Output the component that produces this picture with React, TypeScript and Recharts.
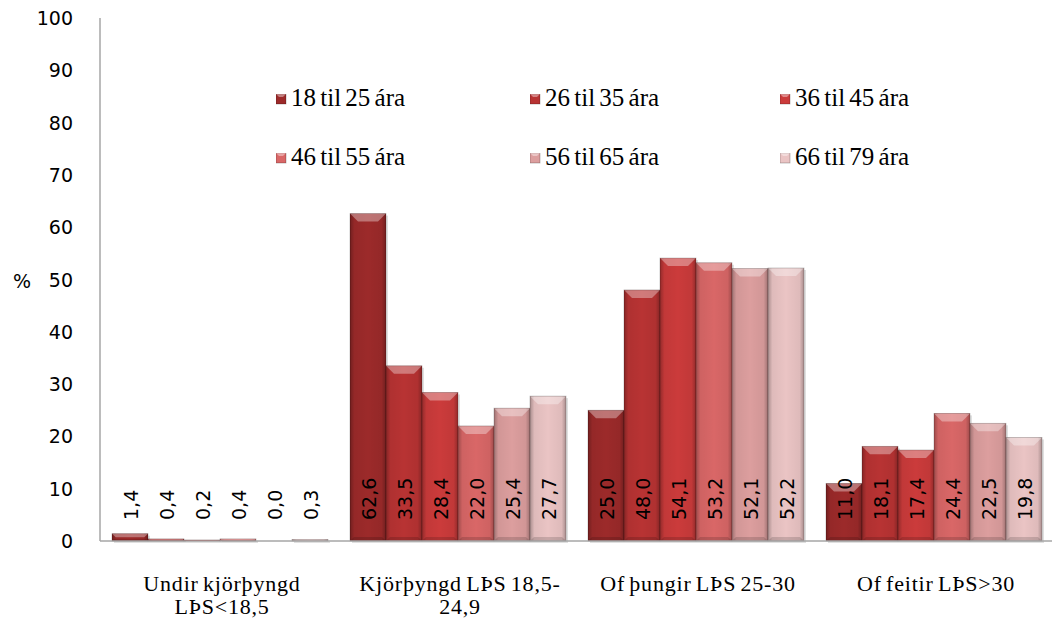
import React from 'react';
import { BarChart, Bar, XAxis, YAxis, LabelList, Label } from 'recharts';

const categories = ['Undir kjörþyngd LÞS<18,5', 'Kjörþyngd LÞS 18,5-24,9', 'Of þungir LÞS 25-30', 'Of feitir LÞS>30'];
const categoryLines: Record<string, string[]> = {
  'Undir kjörþyngd LÞS<18,5': ['Undir kjörþyngd', 'LÞS<18,5'],
  'Kjörþyngd LÞS 18,5-24,9': ['Kjörþyngd LÞS 18,5-', '24,9'],
  'Of þungir LÞS 25-30': ['Of þungir LÞS 25-30'],
  'Of feitir LÞS>30': ['Of feitir LÞS>30'],
};

const seriesNames = ['18 til 25 ára', '26 til 35 ára', '36 til 45 ára', '46 til 55 ára', '56 til 65 ára', '66 til 79 ára'];
const seriesColors = ['#9c2a2a', '#b83333', '#cb3b3b', '#d96767', '#dc9e9e', '#eac4c4'];

const age18_25 = [1.4, 62.6, 25.0, 11.0];
const age26_35 = [0.4, 33.5, 48.0, 18.1];
const age36_45 = [0.2, 28.4, 54.1, 17.4];
const age46_55 = [0.4, 22.0, 53.2, 24.4];
const age56_65 = [0.0, 25.4, 52.1, 22.5];
const age66_79 = [0.3, 27.7, 52.2, 19.8];

const seriesValues = [age18_25, age26_35, age36_45, age46_55, age56_65, age66_79];
const yTicks = [0, 10, 20, 30, 40, 50, 60, 70, 80, 90, 100];

const data = categories.map((c, i) => {
  const row: Record<string, string | number> = { name: c };
  seriesNames.forEach((s, j) => {
    row[s] = seriesValues[j][i];
  });
  return row;
});

const fmt = (v: number) => v.toFixed(1).replace('.', ',');
const SERIF = 'Liberation Serif, Times New Roman, serif';
const SANS = 'DejaVu Sans, Verdana, sans-serif';

// bevelled bar like the Excel 3D effect
const BevelBar = (props: any) => {
  const { x, y, width, height, fill } = props;
  if (width <= 0) return null;
  const h = Math.max(height, 0);
  const b = Math.min(8, h / 2, width / 4);
  return (
    <g>
      <rect x={x + 2} y={y + 2} width={width} height={h} fill="rgba(0,0,0,0.12)" />
      <rect x={x} y={y} width={width} height={h} fill={fill} />
      <rect x={x} y={y} width={width} height={h} fill="url(#edgeShade)" />
      {h > 2 && (
        <polygon
          points={`${x},${y} ${x + width},${y} ${x + width - b},${y + b} ${x + b},${y + b}`}
          fill="rgba(255,255,255,0.35)"
        />
      )}
      {h > 2 && (
        <polygon
          points={`${x},${y + h} ${x + width},${y + h} ${x + width - b / 2},${y + h - b / 2} ${x + b / 2},${y + h - b / 2}`}
          fill="rgba(0,0,0,0.15)"
        />
      )}
      <rect x={x} y={y} width={width} height={h} fill="none" stroke="rgba(0,0,0,0.25)" strokeWidth={0.8} />
    </g>
  );
};

const ValueLabel = (props: any) => {
  const { x, width, value } = props;
  const cx = x + width / 2 + 1;
  const cy = 520;
  return (
    <text
      x={cx}
      y={cy}
      transform={`rotate(-90 ${cx} ${cy})`}
      textAnchor="start"
      dominantBaseline="central"
      fontFamily={SANS}
      fontSize={19}
      fill="#000"
    >
      {fmt(value)}
    </text>
  );
};

const CategoryTick = (props: any) => {
  const { x, payload } = props;
  const lines = categoryLines[payload.value] || [payload.value];
  return (
    <text textAnchor="middle" fontFamily={SERIF} fontSize={22} letterSpacing={0.8} wordSpacing={-2} fill="#000">
      {lines.map((l, i) => (
        <tspan key={i} x={x + 3} y={591 + i * 23}>
          {l}
        </tspan>
      ))}
    </text>
  );
};

const YTick = (props: any) => {
  const { y, payload } = props;
  return (
    <text x={73} y={y} textAnchor="end" dominantBaseline="central" fontFamily={SANS} fontSize={19} fill="#000">
      {payload.value}
    </text>
  );
};

const LegendBox = () => (
  <div
    style={{
      position: 'absolute',
      top: 84,
      left: 276,
      display: 'grid',
      gridTemplateColumns: '254px 250px 250px',
      rowGap: 31,
    }}
  >
    {seriesNames.map((s, i) => (
      <div key={s} style={{ display: 'flex', alignItems: 'center', height: 28 }}>
        <svg width={11} height={11} style={{ marginRight: 4, marginTop: 2 }}>
          <rect x={0} y={0} width={10} height={10} fill={seriesColors[i]} stroke="rgba(0,0,0,0.3)" strokeWidth={0.8} />
          <polygon points="0,0 10,0 7,3 3,3" fill="rgba(255,255,255,0.4)" />
        </svg>
        <span style={{ fontFamily: SERIF, fontSize: 25, wordSpacing: -2, color: '#000', lineHeight: '28px' }}>{s}</span>
      </div>
    ))}
  </div>
);

export default function App() {
  return (
    <div style={{ position: 'absolute', left: 0, top: 0, width: 1052, height: 625, background: '#fff', overflow: 'hidden' }}>
      <BarChart
        width={1052}
        height={625}
        data={data}
        margin={{ top: 18, right: 0, bottom: 0, left: 0 }}
        barCategoryGap={12}
        barGap={0}
      >
        <defs>
          <linearGradient id="edgeShade" x1="0" y1="0" x2="1" y2="0">
            <stop offset="0" stopColor="#000" stopOpacity={0.28} />
            <stop offset="0.12" stopColor="#000" stopOpacity={0.05} />
            <stop offset="0.5" stopColor="#000" stopOpacity={0} />
            <stop offset="0.88" stopColor="#000" stopOpacity={0.05} />
            <stop offset="1" stopColor="#000" stopOpacity={0.28} />
          </linearGradient>
        </defs>
        <XAxis
          dataKey="name"
          tick={<CategoryTick />}
          tickLine={false}
          axisLine={{ stroke: '#a6a6a6', strokeWidth: 1.5 }}
          interval={0}
          height={84}
        />
        <YAxis
          width={100}
          domain={[0, 100]}
          ticks={yTicks}
          tick={<YTick />}
          tickLine={false}
          axisLine={{ stroke: '#a6a6a6', strokeWidth: 1.5 }}
          interval={0}
        >
          <Label
            content={() => (
              <text x={22} y={281} textAnchor="middle" dominantBaseline="central" fontFamily={SANS} fontSize={19} fill="#000">
                %
              </text>
            )}
          />
        </YAxis>
        {seriesNames.map((s, i) => (
          <Bar key={s} dataKey={s} fill={seriesColors[i]} shape={<BevelBar />} isAnimationActive={false}>
            <LabelList dataKey={s} content={<ValueLabel />} />
          </Bar>
        ))}
      </BarChart>
      <LegendBox />
    </div>
  );
}
